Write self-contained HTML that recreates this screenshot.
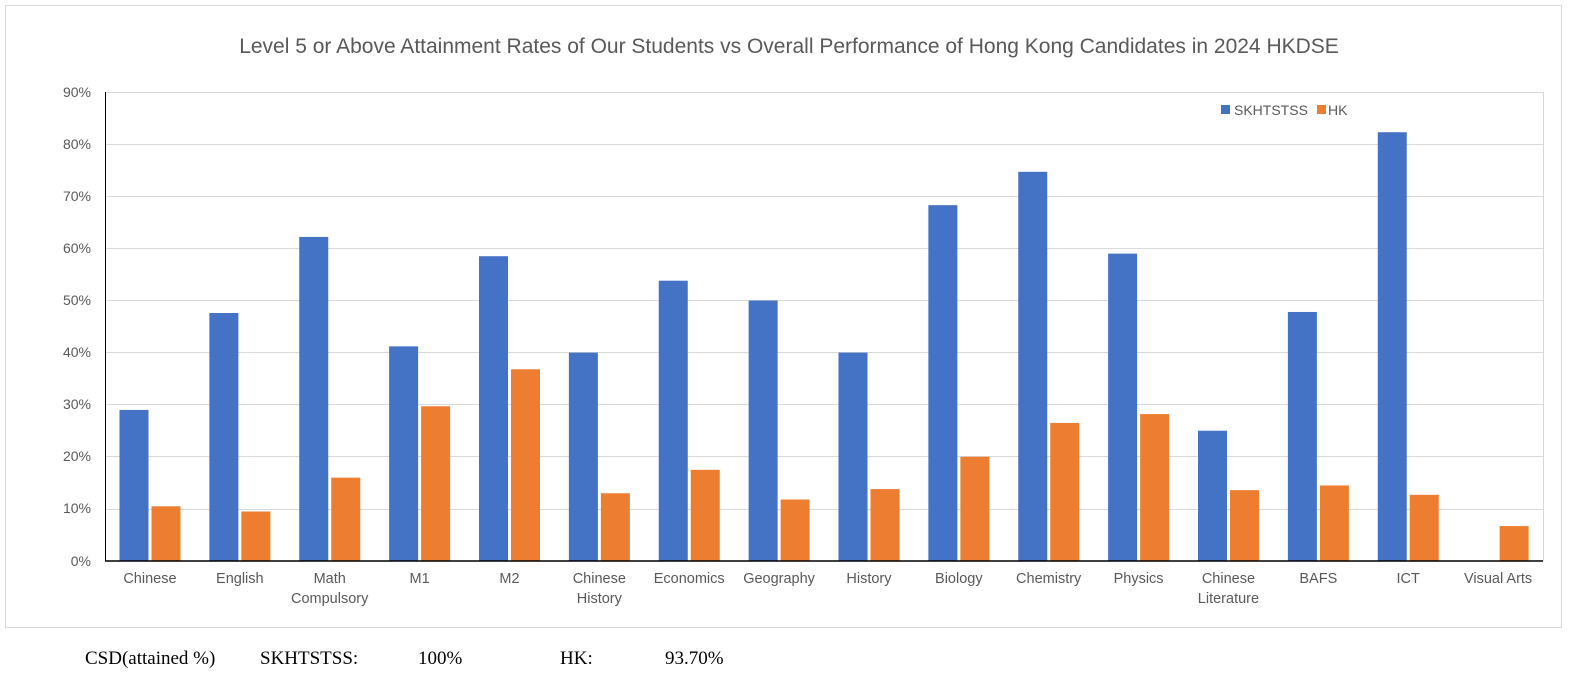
<!DOCTYPE html>
<html><head><meta charset="utf-8"><style>
body{margin:0;background:#fff;width:1578px;height:675px;overflow:hidden}
svg{display:block}
text{font-family:"Liberation Sans",sans-serif}
</style></head><body>
<svg width="1578" height="675" xmlns="http://www.w3.org/2000/svg">
<rect x="5.5" y="5.5" width="1556" height="622" fill="#fff" stroke="#d9d9d9"/>
<text x="789" y="53" text-anchor="middle" font-size="21" fill="#595959">Level 5 or Above Attainment Rates of Our Students vs Overall Performance of Hong Kong Candidates in 2024 HKDSE</text>
<g stroke="#d9d9d9" stroke-width="1">
<line x1="105" x2="1543" y1="92.5" y2="92.5"/>
<line x1="105" x2="1543" y1="144.5" y2="144.5"/>
<line x1="105" x2="1543" y1="196.5" y2="196.5"/>
<line x1="105" x2="1543" y1="248.5" y2="248.5"/>
<line x1="105" x2="1543" y1="300.5" y2="300.5"/>
<line x1="105" x2="1543" y1="352.5" y2="352.5"/>
<line x1="105" x2="1543" y1="404.5" y2="404.5"/>
<line x1="105" x2="1543" y1="456.5" y2="456.5"/>
<line x1="105" x2="1543" y1="509.5" y2="509.5"/>
<line x1="1543.5" x2="1543.5" y1="92" y2="561"/>
</g>
<g font-size="14" fill="#595959" text-anchor="end">
<text x="91" y="97">90%</text><text x="91" y="149">80%</text><text x="91" y="201">70%</text>
<text x="91" y="253">60%</text><text x="91" y="305">50%</text><text x="91" y="357">40%</text>
<text x="91" y="409">30%</text><text x="91" y="461">20%</text><text x="91" y="513">10%</text>
<text x="91" y="566">0%</text>
</g>
<g id="bars"></g>
<line x1="105.5" x2="105.5" y1="92" y2="561" stroke="#000"/>
<line x1="105" x2="1543" y1="561" y2="561" stroke="#000" stroke-width="1.5"/>
<g font-size="14.5" fill="#595959" text-anchor="middle" id="labels"></g>
<rect x="1221" y="105" width="9" height="9" fill="#4472c4"/>
<text x="1234" y="115" font-size="14" fill="#595959">SKHTSTSS</text>
<rect x="1317" y="105" width="9" height="9" fill="#ed7d31"/>
<text x="1328" y="115" font-size="14" fill="#595959">HK</text>
<g font-size="19" fill="#000">
<text x="85" y="664" style="font-family:'Liberation Serif',serif">CSD(attained %)</text>
<text x="260" y="664" style="font-family:'Liberation Serif',serif">SKHTSTSS:</text>
<text x="418" y="664" style="font-family:'Liberation Serif',serif">100%</text>
<text x="560" y="664" style="font-family:'Liberation Serif',serif">HK:</text>
<text x="665" y="664" style="font-family:'Liberation Serif',serif">93.70%</text>
</g>
</svg>
<script>
var b=[29,47.6,62.2,41.2,58.5,40,53.8,50,40,68.3,74.7,59,25,47.8,82.3,0];
var o=[10.5,9.5,16,29.7,36.8,13,17.5,11.8,13.8,20,26.5,28.2,13.6,14.5,12.7,6.7];
var L=[["Chinese"],["English"],["Math","Compulsory"],["M1"],["M2"],["Chinese","History"],["Economics"],["Geography"],["History"],["Biology"],["Chemistry"],["Physics"],["Chinese","Literature"],["BAFS"],["ICT"],["Visual Arts"]];
var g=document.getElementById('bars'),lg=document.getElementById('labels'),s='',t='',w=1438/16,k=52.1/10;
for(var i=0;i<16;i++){var x=105+i*w;
if(b[i]>0)s+='<rect x="'+(x+14.5)+'" y="'+(561-b[i]*k)+'" width="29" height="'+(b[i]*k)+'" fill="#4472c4"/>';
s+='<rect x="'+(x+46.5)+'" y="'+(561-o[i]*k)+'" width="29" height="'+(o[i]*k)+'" fill="#ed7d31"/>';
for(var j=0;j<L[i].length;j++)t+='<text x="'+(x+w/2)+'" y="'+(583+j*20)+'">'+L[i][j]+'</text>';}
g.innerHTML=s;lg.innerHTML=t;
</script>
</body></html>
